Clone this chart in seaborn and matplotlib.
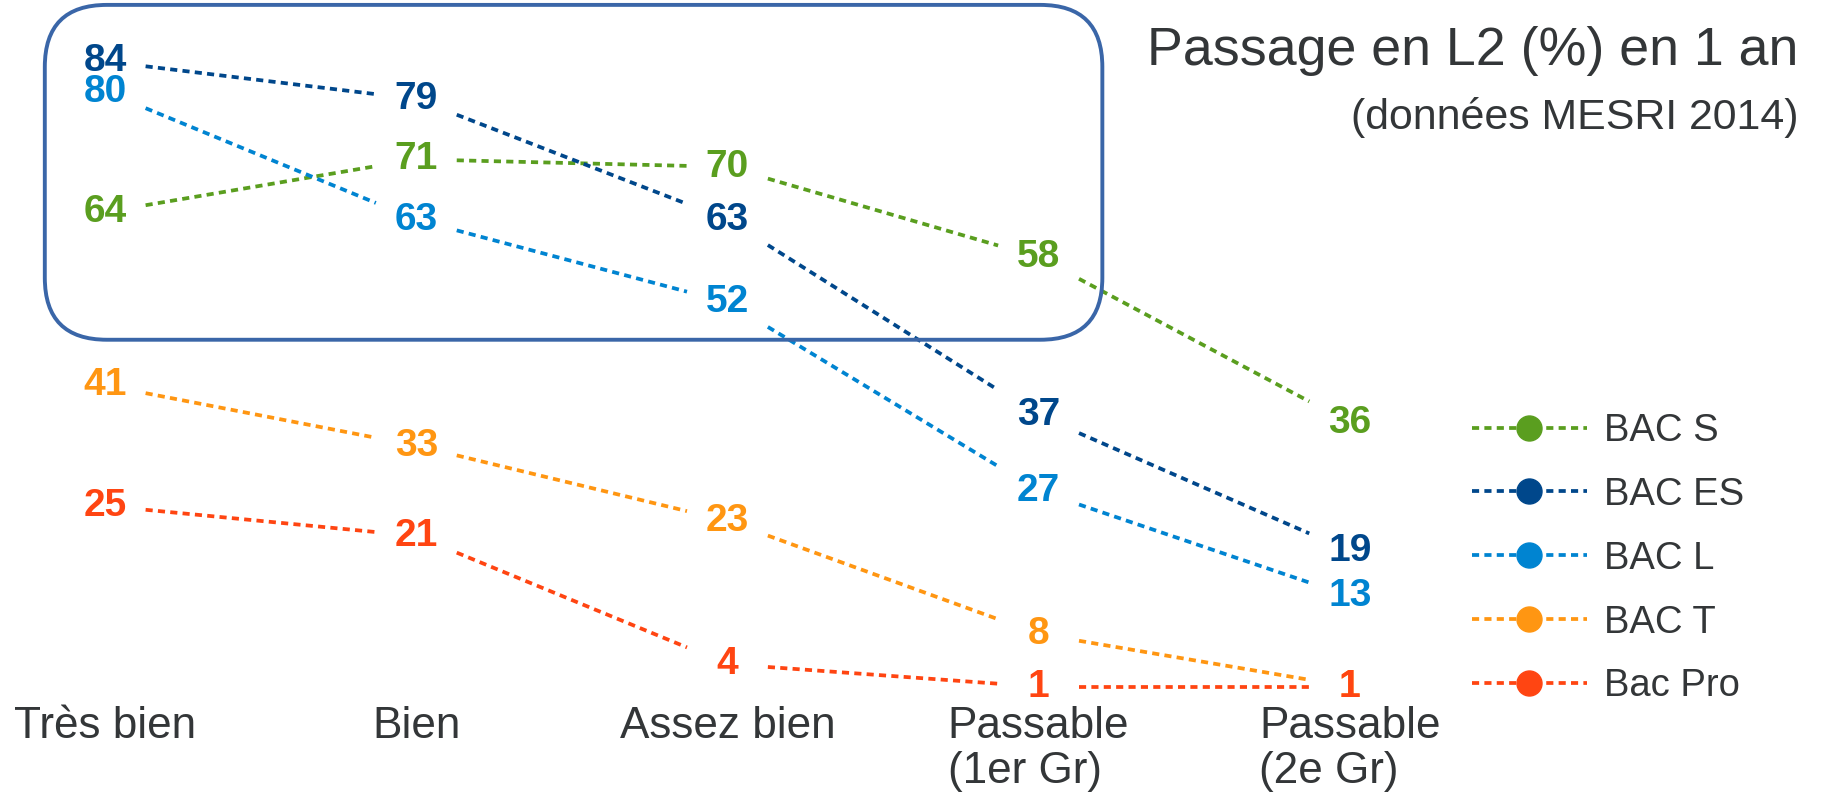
import matplotlib

matplotlib.use("Agg")
import matplotlib.pyplot as plt
import pandas as pd
import seaborn as sns
from matplotlib.lines import Line2D
from matplotlib.patches import FancyBboxPatch

# Data
mentions = ["Très bien", "Bien", "Assez bien", "Passable\n(1er Gr)", "Passable\n(2e Gr)"]
series = ["BAC S", "BAC ES", "BAC L", "BAC T", "Bac Pro"]
bac_s = [64, 71, 70, 58, 36]
bac_es = [84, 79, 63, 37, 19]
bac_l = [80, 63, 52, 27, 13]
bac_t = [41, 33, 23, 8, 1]
bac_pro = [25, 21, 4, 1, 1]
colors = ["#5a9e1f", "#00478b", "#0084d1", "#ff9612", "#ff4512"]
values = [bac_s, bac_es, bac_l, bac_t, bac_pro]

TITLE = "Passage en L2 (%) en 1 an"
SUBTITLE = "(données MESRI 2014)"

GAP = 0.13  # space kept free around each number, in category units
DASH = (0, (1.9, 1.4))

# dashed segments between the numbers, shortened at both ends
rows = []
for name, vals in zip(series, values):
    for i in range(len(vals) - 1):
        y0, y1 = vals[i], vals[i + 1]
        for t in (GAP, 1 - GAP):
            rows.append({"serie": name, "seg": f"{name}-{i}",
                         "x": i + t, "y": y0 + (y1 - y0) * t})
seg_df = pd.DataFrame(rows)

sns.set_style("white")
plt.rcParams["font.family"] = ["Liberation Sans", "DejaVu Sans"]

fig = plt.figure(figsize=(18.22, 7.94), dpi=100)
ax = fig.add_axes([0, 0, 1, 1])
ax.set_xlim(-0.338, 5.518)
ax.set_ylim(-13.25, 92.15)
ax.axis("off")

palette = dict(zip(series, colors))
sns.lineplot(data=seg_df, x="x", y="y", hue="serie", units="seg",
             estimator=None, palette=palette, legend=False, ax=ax,
             linewidth=2.7, linestyle=DASH)

# numbers at the points
for name, vals, c in zip(series, values, colors):
    for i, v in enumerate(vals):
        ax.text(i, v, str(v), color=c, fontsize=28, fontweight="bold",
                ha="center", va="center")

# category labels
for i, lab in enumerate(mentions):
    ax.text(i, -1.55, lab, color="#333638", fontsize=31.8, ha="center",
            va="top", linespacing=1.13, multialignment="left")

# title
fig.text(0.987, 0.936, TITLE, color="#333638", fontsize=38.7, ha="right",
         va="center")
fig.text(0.987, 0.852, SUBTITLE, color="#333638", fontsize=30.9, ha="right",
         va="center")

# rounded box around the top group
fig.canvas.draw()
(x0, y0), (x1, y1) = ax.transData.transform([(-0.194, 47.05), (3.205, 91.5)])
box = FancyBboxPatch((x0 + 62, y0 + 62), (x1 - x0) - 124, (y1 - y0) - 124,
                     boxstyle="round,pad=62", transform=None,
                     facecolor="none", edgecolor="#3a66a8", linewidth=2.8,
                     zorder=0)
fig.patches.append(box)

# legend
handles = [Line2D([], [], color=c, linestyle=DASH, linewidth=2.7,
                  marker="o", markersize=18) for c in colors]
leg = ax.legend(handles, series, loc="upper left",
                bbox_to_anchor=(0.808, 0.48), bbox_transform=fig.transFigure,
                frameon=False, fontsize=27.5, handlelength=3.0,
                handletextpad=0.45, labelspacing=0.73, borderpad=0,
                borderaxespad=0, numpoints=1)
for t in leg.get_texts():
    t.set_color("#333638")

fig.savefig("out.png", dpi=100)
